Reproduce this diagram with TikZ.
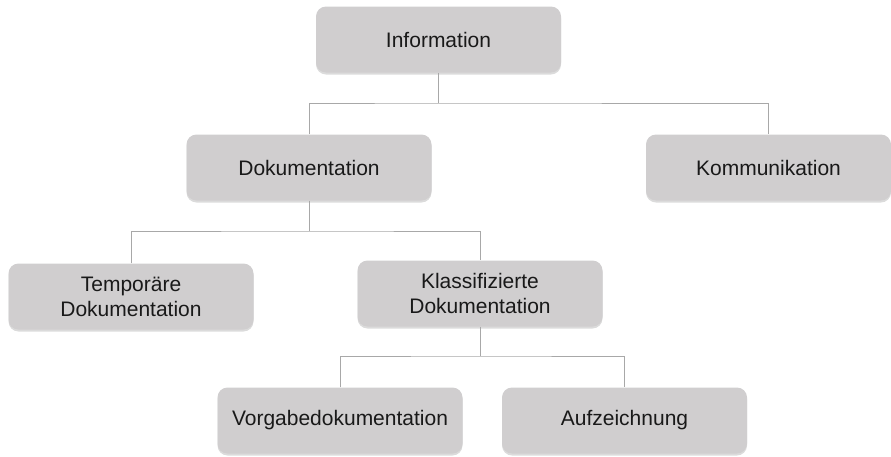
\documentclass[tikz,border=0pt]{standalone}
\usepackage{fontspec}
\setmainfont{Liberation Sans}
\usetikzlibrary{shadows}
\definecolor{boxgray}{RGB}{208,206,207}
\definecolor{linegray}{RGB}{168,168,168}
\definecolor{textblack}{RGB}{25,25,25}

\begin{document}
\begin{tikzpicture}[x=1pt, y=-1pt,
    box/.style={rounded corners=10pt, fill=boxgray, text=textblack,
        minimum width=245pt, minimum height=66pt, inner sep=0pt, align=center,
        font=\fontsize{21}{25}\selectfont,
        drop shadow={shadow xshift=0pt, shadow yshift=-2pt, fill=black!40, opacity=0.35}},
    conn/.style={draw=linegray, line width=0.8pt}]
    \useasboundingbox (0,0) rectangle (891,456);

    % Boxes
    \node[box] (info) at (438.5,39.5) {Information};
    \node[box] (doku) at (309,167.5) {Dokumentation};
    \node[box] (komm) at (768.5,167.5) {Kommunikation};
    \node[box] (temp) at (131,296.5) {Temporäre\\Dokumentation};
    \node[box] (klass) at (480,293.5) {Klassifizierte\\Dokumentation};
    \node[box] (vorg) at (340,420.5) {Vorgabedokumentation};
    \node[box] (aufz) at (624.5,420.5) {Aufzeichnung};

    % Junctions
    \coordinate (j1) at (438.5,103);
    \coordinate (j2) at (309,231);
    \coordinate (j3) at (480,356);

    % Connectors
    \draw[conn] (info.south) -- (j1);
    \draw[conn] (doku.north) |- (j1) -| (komm.north);
    \draw[conn] (doku.south) -- (j2);
    \draw[conn] (temp.north) |- (j2) -| (klass.north);
    \draw[conn] (klass.south) -- (j3);
    \draw[conn] (vorg.north) |- (j3) -| (aufz.north);
\end{tikzpicture}
\end{document}
